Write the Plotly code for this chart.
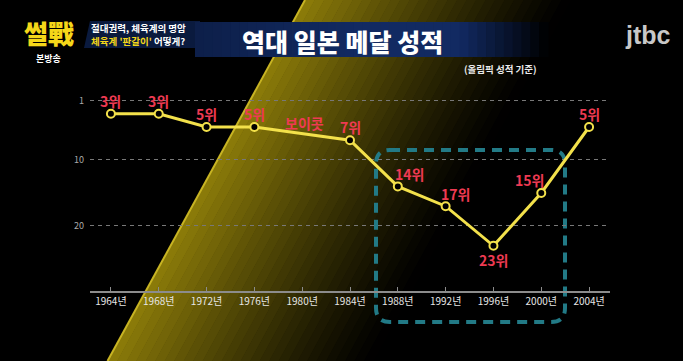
import plotly.graph_objects as go

# ---------------- data ----------------
years = [1964, 1968, 1972, 1976, 1980, 1984, 1988, 1992, 1996, 2000, 2004]
ranks = [3, 3, 5, 5, None, 7, 14, 17, 23, 15, 5]
year_labels = [f"{y}년" for y in years]
rank_ticks = [1, 10, 20]
boycott_label = "보이콧"
point_labels = [f"{r}위" if r is not None else boycott_label for r in ranks]

title_text = "역대 일본 메달 성적"
note_text = "(올림픽 성적 기준)"

# ---------------- helpers (pixel -> paper) ----------------
W, H = 683, 361


def px(x):
    return x / W


def py(y):
    return 1 - y / H


def poly(points):
    s = "M " + " L ".join(f"{px(x):.5f},{py(y):.5f}" for x, y in points) + " Z"
    return s


FONT = "Noto Sans CJK KR"
YELLOW = "#f3e14b"
RED = "#ee3a52"

fig = go.Figure()

fig.add_trace(go.Scatter(
    x=years, y=ranks, mode="lines+markers", connectgaps=True,
    line=dict(color=YELLOW, width=3),
    marker=dict(size=8, color="black", line=dict(color=YELLOW, width=2)),
    hoverinfo="skip", showlegend=False,
))

shapes = []

# yellow diagonal light beam (strips fading to black)
def edge_x(yy):
    return 305 - 0.547 * yy

N, step = 28, 9.5
for k in range(N):
    d0, d1 = k * step, (k + 1) * step + 0.6
    f = max(0.0, 1 - (k + 0.5) / N) ** 1.2
    col = f"rgb({int(142*f)},{int(125*f)},{int(10*f)})"
    pts = [(edge_x(0) + d0, 0), (edge_x(0) + d1, 0),
           (edge_x(H) + d1, H), (edge_x(H) + d0, H)]
    shapes.append(dict(type="path", path=poly(pts), xref="paper", yref="paper",
                       fillcolor=col, line=dict(width=0), layer="below"))
shapes.append(dict(type="line", xref="paper", yref="paper",
                   x0=px(edge_x(0)), y0=py(0), x1=px(edge_x(H)), y1=py(H),
                   line=dict(color="rgb(200,180,35)", width=2), layer="below"))

# navy banner behind subtitle / title
shapes.append(dict(type="path", path=poly([(90, 21), (200, 21), (200, 48), (84, 48)]),
                   xref="paper", yref="paper", fillcolor="rgb(10,26,62)",
                   line=dict(width=0), layer="below"))
bx0, bx1, nb = 195, 548, 40
bw = (bx1 - bx0) / nb
for k in range(nb):
    xa = bx0 + k * bw
    t = (k + 0.5) / nb
    if t < 0.45:
        g = 0.75 + 0.25 * t / 0.45
    elif t < 0.75:
        g = 1.0
    else:
        g = max(0.0, 1 - (t - 0.75) / 0.25)
    col = f"rgb({int(18*g)},{int(42*g)},{int(98*g)})"
    shapes.append(dict(type="rect", xref="paper", yref="paper",
                       x0=px(xa), x1=px(xa + bw + 0.6), y0=py(57), y1=py(22),
                       fillcolor=col, line=dict(width=0), layer="below"))

# dashed teal rounded highlight box
x0, x1, y0, y1, r = 376, 565, 150, 322, 14
box = (f"M {px(x0+r)},{py(y0)} L {px(x1-r)},{py(y0)} Q {px(x1)},{py(y0)} {px(x1)},{py(y0+r)} "
       f"L {px(x1)},{py(y1-r)} Q {px(x1)},{py(y1)} {px(x1-r)},{py(y1)} "
       f"L {px(x0+r)},{py(y1)} Q {px(x0)},{py(y1)} {px(x0)},{py(y1-r)} "
       f"L {px(x0)},{py(y0+r)} Q {px(x0)},{py(y0)} {px(x0+r)},{py(y0)} Z")
shapes.append(dict(type="path", path=box, xref="paper", yref="paper",
                   line=dict(color="rgb(34,122,134)", width=4, dash="10px,7px"),
                   fillcolor="rgba(0,0,0,0)", layer="below"))

annotations = []

# point labels
offsets = {6: (12, 12), 7: (10, 12), 8: (0, -14), 9: (-12, 13)}
for i, (yr, rk, lab) in enumerate(zip(years, ranks, point_labels)):
    if rk is None:
        annotations.append(dict(x=yr, y=4.35, xref="x", yref="y", text=lab,
                                showarrow=False, xshift=2, xanchor="center", yanchor="middle",
                                font=dict(family=FONT, size=14, color=RED, weight="bold")))
        continue
    xs, ys = offsets.get(i, (0, 13))
    annotations.append(dict(x=yr, y=rk, xref="x", yref="y", text=lab, showarrow=False,
                            xshift=xs, yshift=ys, xanchor="center", yanchor="middle",
                            font=dict(family=FONT, size=14, color=RED, weight="bold")))


def txt(x, y, text, size, color, weight="bold", family=FONT, xanchor="center"):
    return dict(x=px(x), y=py(y), xref="paper", yref="paper", text=text, showarrow=False,
                xanchor=xanchor, yanchor="middle",
                font=dict(family=family, size=size, color=color, weight=weight))


# headline texts
annotations += [
    txt(342, 41, title_text, 25, "white", 900),
    txt(500, 69, note_text, 9.5, "rgb(235,235,235)"),
    txt(49, 32, "썰戰", 26, "rgb(245,215,25)", 900),
    txt(48, 58, "본방송", 9, "white"),
    txt(89, 28, "절대권력, 체육계의 명암", 9.5, "white", xanchor="left"),
    txt(89, 41, "<span style='color:rgb(245,215,25)'>체육계 '판갈이'</span> 어떻게?",
        9.5, "white", xanchor="left"),
    txt(648, 35, "jtbc", 25, "rgb(200,200,200)", "bold", "Liberation Sans"),
]

fig.update_layout(
    width=W, height=H,
    margin=dict(l=0, r=0, t=0, b=0),
    paper_bgcolor="black", plot_bgcolor="rgba(0,0,0,0)",
    shapes=shapes, annotations=annotations, showlegend=False,
    xaxis=dict(domain=[px(90), px(610)], range=[1962.25, 2005.75],
               tickvals=years, ticktext=year_labels, showgrid=False, zeroline=False,
               showline=True, linecolor="rgb(140,140,140)", linewidth=1.5,
               ticks="inside", ticklen=4, tickcolor="rgb(140,140,140)",
               tickfont=dict(family=FONT, size=10, color="rgb(230,230,230)")),
    yaxis=dict(domain=[py(291), py(70)], range=[29.85, -3.636],
               tickvals=rank_ticks, showgrid=True, gridcolor="rgb(120,120,120)",
               griddash="4px,4px", gridwidth=1, zeroline=False, showline=False,
               ticklabelstandoff=5,
               tickfont=dict(family=FONT, size=9, color="rgb(170,170,170)")),
)

fig.write_html("out.html", config={"displayModeBar": False},
               post_script="document.body.style.margin='0px';document.body.style.background='black';")
